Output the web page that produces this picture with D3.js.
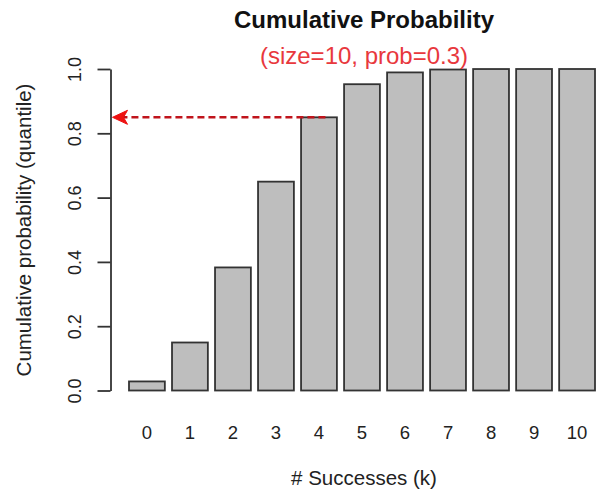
<!DOCTYPE html>
<html>
<head>
<meta charset="utf-8">
<script src="https://cdn.jsdelivr.net/npm/d3@7"></script>
<style>
  html, body { margin: 0; padding: 0; background: #fff; }
  svg { display: block; font-family: "Liberation Sans", Arial, sans-serif; }
</style>
</head>
<body>
<svg id="chart" width="597" height="492"></svg>
<script>
// ---- data ----
const categories = ["0","1","2","3","4","5","6","7","8","9","10"];
const cumProb = [0.0282, 0.1493, 0.3828, 0.6496, 0.8497, 0.9527, 0.9894, 0.9984, 0.9999, 1.0000, 1.0000];
const yTicks = [0.0, 0.2, 0.4, 0.6, 0.8, 1.0];
const highlightIndex = 4;
const titleText = "Cumulative Probability";
const subtitleText = "(size=10, prob=0.3)";
const xLabel = "# Successes (k)";
const yLabel = "Cumulative probability (quantile)";

// ---- layout ----
const svg = d3.select("#chart");
const axisX = 110.5;
const y = d3.scaleLinear().domain([0, 1]).range([390.5, 69]);
const x = d3.scaleBand().domain(categories).range([129, 595])
  .paddingInner(0.2 / 1.2).paddingOuter(0);

// bars
svg.append("g").selectAll("rect").data(cumProb).join("rect")
  .attr("x", (d, i) => x(categories[i]))
  .attr("width", x.bandwidth())
  .attr("y", d => y(d))
  .attr("height", d => y(0) - y(d))
  .attr("fill", "#bebebe")
  .attr("stroke", "#333")
  .attr("stroke-width", 1.8);

// y axis
const yAxis = d3.axisLeft(y).tickValues(yTicks).tickFormat(d3.format(".1f"))
  .tickSize(13).tickSizeOuter(0);
const gy = svg.append("g").attr("transform", `translate(${axisX},0)`).call(yAxis);
gy.select(".domain").attr("stroke", "#333").attr("stroke-width", 1.8);
gy.selectAll(".tick line").attr("stroke", "#333").attr("stroke-width", 1.8);
gy.selectAll(".tick text")
  .attr("font-size", 18).attr("fill", "#222")
  .attr("font-family", "Liberation Sans, Arial, sans-serif")
  .attr("x", null).attr("dy", null)
  .attr("text-anchor", "middle")
  .attr("transform", "translate(-35.5,0) rotate(-90)")
  .attr("y", 0).attr("dy", "0.35em");

// x tick labels (no axis line, as in R barplot)
svg.append("g").selectAll("text").data(categories).join("text")
  .attr("x", d => x(d) + x.bandwidth() / 2)
  .attr("y", 438.5)
  .attr("text-anchor", "middle")
  .attr("font-size", 18.5)
  .attr("fill", "#222")
  .text(d => d);

// titles
const cx = (x(categories[0]) + x(categories[categories.length - 1]) + x.bandwidth()) / 2 + 2;
svg.append("text").attr("x", cx).attr("y", 28).attr("text-anchor", "middle")
  .attr("font-size", 24).attr("font-weight", "bold").attr("fill", "#111").text(titleText);
svg.append("text").attr("x", cx).attr("y", 64).attr("text-anchor", "middle")
  .attr("font-size", 24).attr("fill", "#e8383d").text(subtitleText);

// axis labels
svg.append("text").attr("x", cx).attr("y", 485).attr("text-anchor", "middle")
  .attr("font-size", 20.5).attr("fill", "#222").text(xLabel);
svg.append("text")
  .attr("transform", `translate(31,230) rotate(-90)`)
  .attr("text-anchor", "middle")
  .attr("font-size", 20.5).attr("fill", "#222").text(yLabel);

// dashed arrow at the highlighted quantile
const ay = y(cumProb[highlightIndex]);
const ax0 = x(categories[highlightIndex]) + x.bandwidth() * 0.68;
const tipX = axisX + 2;
svg.append("line")
  .attr("x1", ax0).attr("y1", ay).attr("x2", tipX + 10).attr("y2", ay)
  .attr("stroke", "#c0141c").attr("stroke-width", 2.4)
  .attr("stroke-dasharray", "7,4");
svg.append("path")
  .attr("d", d3.line()([[tipX, ay], [tipX + 15, ay - 7], [tipX + 11, ay], [tipX + 15, ay + 7]]) + "Z")
  .attr("fill", "#ee1111").attr("stroke", "#ee1111").attr("stroke-width", 1);
</script>
</body>
</html>
